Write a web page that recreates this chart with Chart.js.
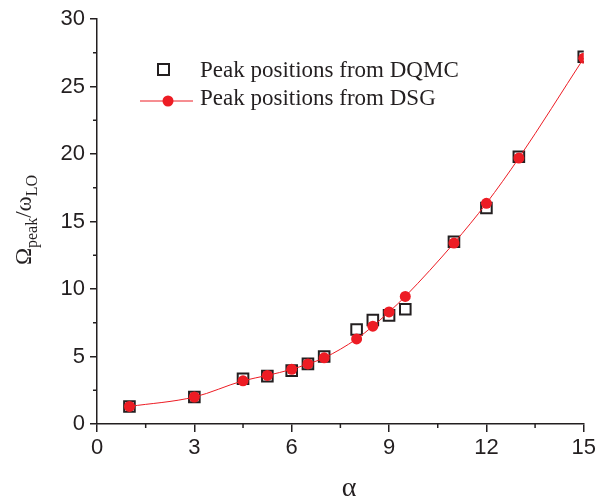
<!DOCTYPE html>
<html>
<head>
<meta charset="utf-8">
<script src="https://cdn.jsdelivr.net/npm/chart.js@4"></script>
<style>
  html, body { margin: 0; padding: 0; background: #fff; }
  #wrap { width: 599px; height: 504px; }
</style>
</head>
<body>
<div id="wrap"><canvas id="peakChart" width="599" height="504"></canvas></div>
<script>
// alpha values (shared by both series)
const alphaDQMC = [1, 3, 4.5, 5.25, 6, 6.5, 7, 8, 8.5, 9, 9.5, 11, 12, 13, 15];
const peakDQMC  = [1.3, 2.0, 3.35, 3.55, 3.95, 4.45, 5.0, 7.0, 7.7, 8.05, 8.5, 13.5, 16.0, 19.8, 27.2];

const alphaDSG = [1, 3, 4.5, 5.25, 6, 6.5, 7, 8, 8.5, 9, 9.5, 11, 12, 13, 15];
const peakDSG  = [1.3, 2.0, 3.2, 3.6, 4.05, 4.45, 4.9, 6.3, 7.25, 8.3, 9.45, 13.4, 16.35, 19.7, 27.1];

const xTicks = [0, 3, 6, 9, 12, 15];
const yTicks = [0, 5, 10, 15, 20, 25, 30];

const axisColor = "#231f20";
const red = "#ed1c24";

function toPoints(xs, ys) {
    return xs.map((x, i) => ({ x: x, y: ys[i] }));
}

// minor ticks, axis titles and the in-plot legend
const extras = {
    id: "extras",
    afterDraw(chart) {
        const ctx = chart.ctx;
        const xs = chart.scales.x;
        const ys = chart.scales.y;
        const area = chart.chartArea;
        ctx.save();

        // minor ticks
        ctx.strokeStyle = axisColor;
        ctx.lineWidth = 1.5;
        for (let i = 0; i < xTicks.length - 1; i++) {
            const px = xs.getPixelForValue((xTicks[i] + xTicks[i + 1]) / 2);
            ctx.beginPath();
            ctx.moveTo(px, area.bottom);
            ctx.lineTo(px, area.bottom + 4);
            ctx.stroke();
        }
        for (let i = 0; i < yTicks.length - 1; i++) {
            const py = ys.getPixelForValue((yTicks[i] + yTicks[i + 1]) / 2);
            ctx.beginPath();
            ctx.moveTo(area.left, py);
            ctx.lineTo(area.left - 4, py);
            ctx.stroke();
        }

        // x title
        ctx.fillStyle = axisColor;
        ctx.font = "28px 'Liberation Serif'";
        ctx.textAlign = "center";
        ctx.textBaseline = "alphabetic";
        ctx.fillText("\u03b1", 349, 496);

        // y title with subscripts, rotated
        ctx.translate(31, 220);
        ctx.rotate(-Math.PI / 2);
        const big = "23px 'Liberation Serif'";
        const small = "16px 'Liberation Serif'";
        const parts = [
            ["\u03a9", big, 0],
            ["peak", small, 6],
            ["/", big, 0],
            ["\u03c9", big, 0],
            ["LO", small, 6]
        ];
        let total = 0;
        parts.forEach(p => { ctx.font = p[1]; total += ctx.measureText(p[0]).width; });
        let cx = -total / 2;
        ctx.textAlign = "left";
        parts.forEach(p => {
            ctx.font = p[1];
            ctx.fillText(p[0], cx, p[2]);
            cx += ctx.measureText(p[0]).width;
        });
        ctx.restore();

        // legend
        ctx.save();
        ctx.font = "23px 'Liberation Serif'";
        ctx.fillStyle = axisColor;
        ctx.textAlign = "left";
        ctx.textBaseline = "alphabetic";
        ctx.strokeStyle = axisColor;
        ctx.lineWidth = 2;
        ctx.strokeRect(158, 64, 11, 11);
        ctx.fillText("Peak positions from DQMC", 200, 77);

        ctx.strokeStyle = red;
        ctx.lineWidth = 1;
        ctx.beginPath();
        ctx.moveTo(140, 101);
        ctx.lineTo(193, 101);
        ctx.stroke();
        ctx.fillStyle = red;
        ctx.beginPath();
        ctx.arc(168, 101, 5.5, 0, Math.PI * 2);
        ctx.fill();
        ctx.fillStyle = axisColor;
        ctx.fillText("Peak positions from DSG", 200, 105);
        ctx.restore();
    }
};

const tickFont = { family: "'Liberation Sans', Arial, sans-serif", size: 22 };

const config = {
    type: "scatter",
    data: {
        datasets: [
            {
                label: "Peak positions from DSG",
                data: toPoints(alphaDSG, peakDSG),
                showLine: true,
                borderColor: red,
                borderWidth: 1,
                cubicInterpolationMode: "monotone",
                pointStyle: "circle",
                pointRadius: 5.5,
                pointBackgroundColor: red,
                pointBorderColor: red,
                pointBorderWidth: 0,
                order: 0
            },
            {
                label: "Peak positions from DQMC",
                data: toPoints(alphaDQMC, peakDQMC),
                showLine: false,
                pointStyle: "rect",
                pointRadius: 7.5,
                pointBackgroundColor: "rgba(255,255,255,0)",
                pointBorderColor: axisColor,
                pointBorderWidth: 2,
                order: 1
            }
        ]
    },
    options: {
        responsive: false,
        animation: false,
        layout: { padding: { left: 0, right: 12, top: 19, bottom: 0 } },
        plugins: {
            legend: { display: false },
            tooltip: { enabled: false }
        },
        scales: {
            x: {
                type: "linear",
                min: 0,
                max: 15,
                afterFit: s => { s.height = 80; },
                afterBuildTicks: s => { s.ticks = xTicks.map(v => ({ value: v })); },
                ticks: { font: tickFont, color: axisColor, padding: 3, maxRotation: 0 },
                grid: { drawOnChartArea: false, drawTicks: true, tickLength: 8, color: axisColor, lineWidth: 1.5 },
                border: { display: true, color: axisColor, width: 1.5 }
            },
            y: {
                type: "linear",
                min: 0,
                max: 30,
                afterFit: s => { s.width = 97; },
                afterBuildTicks: s => { s.ticks = yTicks.map(v => ({ value: v })); },
                ticks: { font: tickFont, color: axisColor, padding: 5 },
                grid: { drawOnChartArea: false, drawTicks: true, tickLength: 7, color: axisColor, lineWidth: 1.5 },
                border: { display: true, color: axisColor, width: 1.5 }
            }
        }
    },
    plugins: [extras]
};

new Chart(document.getElementById("peakChart").getContext("2d"), config);
</script>
</body>
</html>
